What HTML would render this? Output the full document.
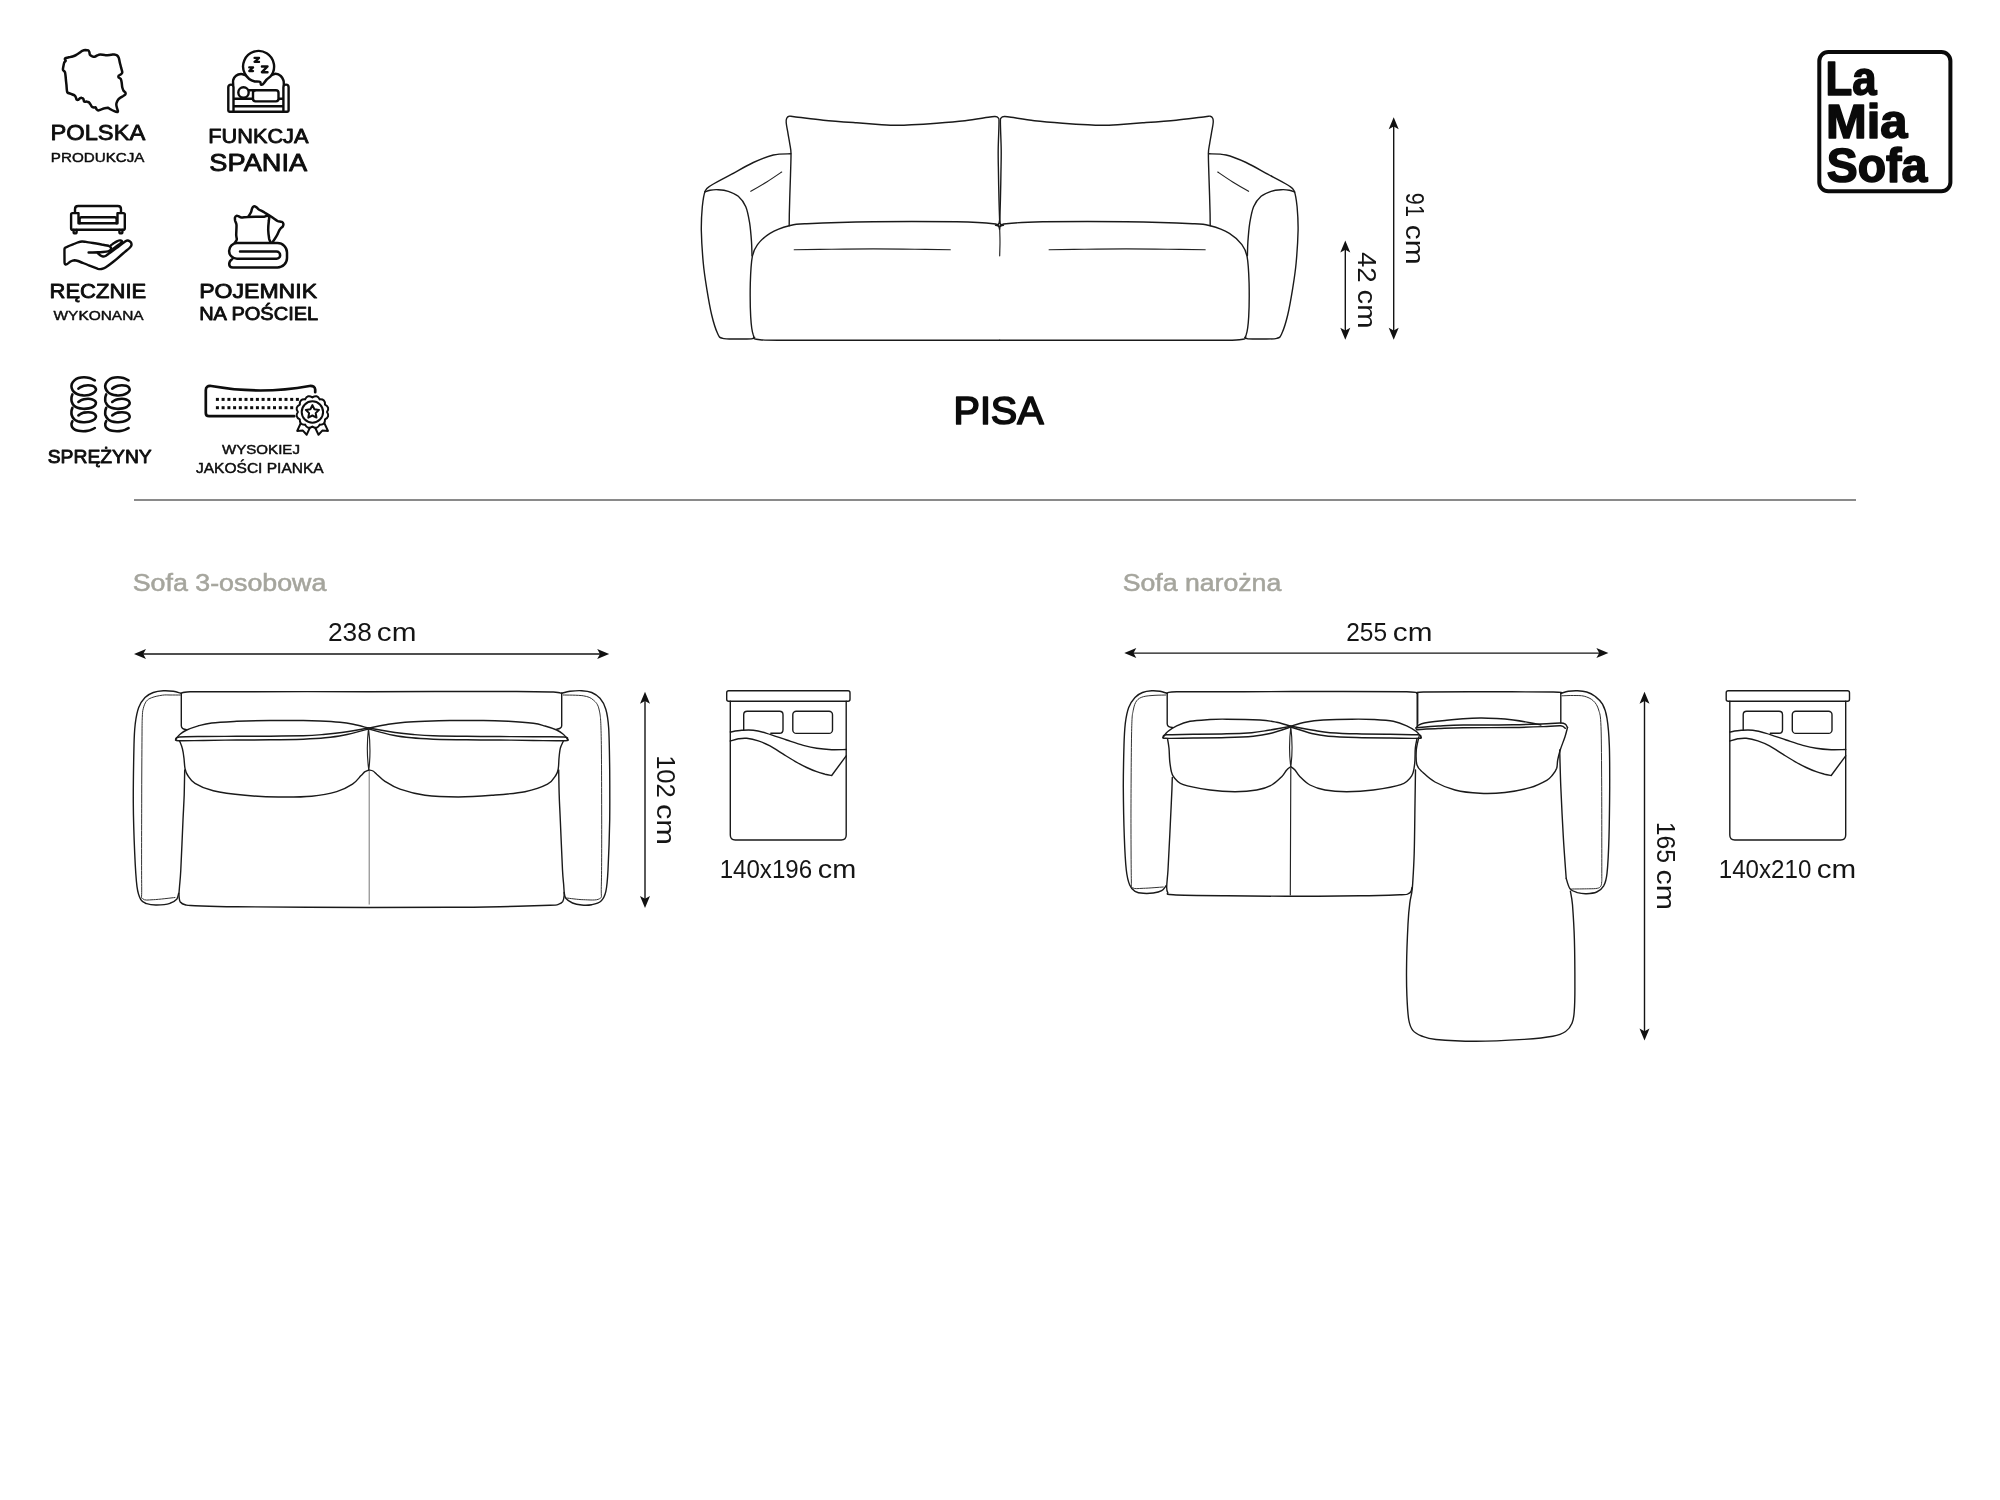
<!DOCTYPE html>
<html lang="pl">
<head>
<meta charset="utf-8">
<title>PISA – wymiary</title>
<style>
html,body{margin:0;padding:0;background:#fff;}
body{width:2000px;height:1500px;overflow:hidden;font-family:"Liberation Sans",sans-serif;}
svg{display:block;position:absolute;left:0;top:0;will-change:transform;transform:translateZ(0);}
svg text{font-family:"Liberation Sans",sans-serif;}
.ln{fill:none;stroke:#1a1a1a;stroke-width:1.4;stroke-linecap:round;stroke-linejoin:round;}
.thin{stroke-width:1.15;stroke:#222;}
.faint{stroke-width:1.0;stroke:#333;}
.seam{stroke-width:0.9;stroke:#666;}
.ln2{fill:none;stroke:#1a1a1a;stroke-width:1.4;stroke-linecap:round;stroke-linejoin:round;}
.dim{stroke:#141414;stroke-width:1.4;}
.ah{fill:#111;stroke:none;}
.dimt{fill:#151515;}
.ttl{fill:#0c0c0c;font-weight:400;stroke:#0c0c0c;stroke-width:1.7;stroke-linejoin:round;}
.logo{fill:#0a0a0a;font-weight:700;stroke:#0a0a0a;stroke-width:1.6;stroke-linejoin:round;}
.cap{fill:#a5a59d;stroke:#a5a59d;stroke-width:0.55;}
.ic{fill:none;stroke:#0d0d0d;stroke-width:2.3;stroke-linecap:round;stroke-linejoin:round;}
.lb{fill:#0d0d0d;stroke:#0d0d0d;stroke-width:0.85;stroke-linejoin:round;}
.ls{fill:#0d0d0d;stroke:#0d0d0d;stroke-width:0.45;stroke-linejoin:round;}
</style>
</head>
<body>
<svg width="2000" height="1500" viewBox="0 0 2000 1500">
<rect x="0" y="0" width="2000" height="1500" fill="#ffffff"/>
<!-- part_front.front_sofa -->
<g><path class="ln" d="M790.8,153.8 C787.9,154 779.6,153.6 773.3,155 C767.1,156.4 760.3,159.3 753.3,162.5 C746.4,165.7 738.6,170.4 731.7,174.2 C724.7,177.9 716.1,182.2 711.7,185 C707.3,187.8 706.9,187.2 705.3,190.8 C703.8,194.4 703,200.1 702.3,206.7 C701.7,213.2 701.2,220.6 701.3,230 C701.5,239.4 702.4,253.6 703.3,263.3 C704.2,273.1 705.3,279.7 706.7,288.3 C708.1,296.9 709.9,307.5 711.7,315 C713.5,322.5 715.7,329.4 717.5,333.3 C719.3,337.2 719,337.4 722.5,338.3 C726,339.3 733.5,338.9 738.3,339 C743.2,339.1 748.9,338.9 751.7,338.7 C754.4,338.4 754.2,337.6 754.7,337.3" /><path class="ln" d="M704.7,192 C705.6,191.7 707.7,190.6 710,190.2 C712.3,189.8 715.3,189.5 718.3,189.7 C721.4,189.9 725,190.2 728.3,191.3 C731.7,192.4 735.4,193.8 738.3,196.3 C741.2,198.9 743.9,202.2 745.8,206.7 C747.7,211.2 748.7,217.5 749.7,223.3 C750.6,229.2 751.1,236.2 751.5,241.7 C751.9,247.1 751.9,253.5 752,255.8" /><path class="ln thin" d="M750.8,191.3 C753.5,189.8 761.5,185.2 766.7,182 C771.8,178.8 779.2,173.7 781.7,172" /><path class="ln" d="M999.2,226.2 C998.2,225.8 1000.4,224.4 993.3,223.7 C986.2,222.9 976.7,222.2 956.7,221.8 C936.7,221.5 898.3,221.4 873.3,221.7 C848.3,222 820.7,223 806.7,223.7 C792.6,224.4 795.3,224.2 789.2,225.8 C783.1,227.4 775.3,230.2 770,233.3 C764.7,236.5 760.4,240.8 757.5,244.7 C754.6,248.6 753.5,250.2 752.3,256.7 C751.1,263.1 750.6,273.3 750.3,283.3 C750.1,293.3 750.2,308.1 750.7,316.7 C751.2,325.3 751.8,331.2 753.3,335 C754.9,338.8 751.1,338.8 760,339.7 C768.9,340.5 766.7,340.1 806.7,340.2 C846.6,340.2 967.5,340.2 999.7,340.2" /><path class="ln thin" d="M794.2,249.7 C800.4,249.6 818.5,249.3 831.7,249.2 C844.9,249 859.4,248.8 873.3,248.8 C887.2,248.8 902.2,249 915,249.2 C927.8,249.3 944.4,249.6 950.3,249.7" /><path class="ln" d="M789.2,225.8 C789.2,221.5 789.4,208.5 789.7,200 C789.9,191.5 790.3,182.8 790.5,175 C790.7,167.2 791.1,158.6 791,153.3 C790.9,148.1 790.2,146.9 789.7,143.3 C789.1,139.7 788.2,135.1 787.7,131.7 C787.1,128.2 786.3,124.7 786.2,122.5 C786,120.3 786.2,119.4 786.7,118.3 C787.2,117.3 787.9,116.6 789.2,116.3 C790.4,116.1 788.5,116 794.2,116.7 C799.9,117.3 812.9,119.1 823.3,120.2 C833.8,121.2 846.9,122.1 856.7,122.8 C866.4,123.6 875,124.2 881.7,124.7 C888.3,125.1 891.7,125.3 896.7,125.3 C901.7,125.4 905,125.2 911.7,124.8 C918.3,124.5 927.8,123.9 936.7,123.2 C945.6,122.5 956.4,121.6 965,120.7 C973.6,119.7 983.3,118 988.3,117.3 C993.3,116.6 993.3,116.4 995,116.5 C996.7,116.6 997.7,117 998.3,118 C999,119 999,117.2 999,122.5 C999,127.8 998.3,141.2 998.2,150 C998.1,158.8 998.4,166.7 998.5,175 C998.6,183.3 998.8,192.1 999,200 C999.2,207.9 999.6,218.8 999.7,222.5" /></g>
<g transform="translate(1999.4,0) scale(-1,1)"><path class="ln" d="M790.8,153.8 C787.9,154 779.6,153.6 773.3,155 C767.1,156.4 760.3,159.3 753.3,162.5 C746.4,165.7 738.6,170.4 731.7,174.2 C724.7,177.9 716.1,182.2 711.7,185 C707.3,187.8 706.9,187.2 705.3,190.8 C703.8,194.4 703,200.1 702.3,206.7 C701.7,213.2 701.2,220.6 701.3,230 C701.5,239.4 702.4,253.6 703.3,263.3 C704.2,273.1 705.3,279.7 706.7,288.3 C708.1,296.9 709.9,307.5 711.7,315 C713.5,322.5 715.7,329.4 717.5,333.3 C719.3,337.2 719,337.4 722.5,338.3 C726,339.3 733.5,338.9 738.3,339 C743.2,339.1 748.9,338.9 751.7,338.7 C754.4,338.4 754.2,337.6 754.7,337.3" /><path class="ln" d="M704.7,192 C705.6,191.7 707.7,190.6 710,190.2 C712.3,189.8 715.3,189.5 718.3,189.7 C721.4,189.9 725,190.2 728.3,191.3 C731.7,192.4 735.4,193.8 738.3,196.3 C741.2,198.9 743.9,202.2 745.8,206.7 C747.7,211.2 748.7,217.5 749.7,223.3 C750.6,229.2 751.1,236.2 751.5,241.7 C751.9,247.1 751.9,253.5 752,255.8" /><path class="ln thin" d="M750.8,191.3 C753.5,189.8 761.5,185.2 766.7,182 C771.8,178.8 779.2,173.7 781.7,172" /><path class="ln" d="M999.2,226.2 C998.2,225.8 1000.4,224.4 993.3,223.7 C986.2,222.9 976.7,222.2 956.7,221.8 C936.7,221.5 898.3,221.4 873.3,221.7 C848.3,222 820.7,223 806.7,223.7 C792.6,224.4 795.3,224.2 789.2,225.8 C783.1,227.4 775.3,230.2 770,233.3 C764.7,236.5 760.4,240.8 757.5,244.7 C754.6,248.6 753.5,250.2 752.3,256.7 C751.1,263.1 750.6,273.3 750.3,283.3 C750.1,293.3 750.2,308.1 750.7,316.7 C751.2,325.3 751.8,331.2 753.3,335 C754.9,338.8 751.1,338.8 760,339.7 C768.9,340.5 766.7,340.1 806.7,340.2 C846.6,340.2 967.5,340.2 999.7,340.2" /><path class="ln thin" d="M794.2,249.7 C800.4,249.6 818.5,249.3 831.7,249.2 C844.9,249 859.4,248.8 873.3,248.8 C887.2,248.8 902.2,249 915,249.2 C927.8,249.3 944.4,249.6 950.3,249.7" /><path class="ln" d="M789.2,225.8 C789.2,221.5 789.4,208.5 789.7,200 C789.9,191.5 790.3,182.8 790.5,175 C790.7,167.2 791.1,158.6 791,153.3 C790.9,148.1 790.2,146.9 789.7,143.3 C789.1,139.7 788.2,135.1 787.7,131.7 C787.1,128.2 786.3,124.7 786.2,122.5 C786,120.3 786.2,119.4 786.7,118.3 C787.2,117.3 787.9,116.6 789.2,116.3 C790.4,116.1 788.5,116 794.2,116.7 C799.9,117.3 812.9,119.1 823.3,120.2 C833.8,121.2 846.9,122.1 856.7,122.8 C866.4,123.6 875,124.2 881.7,124.7 C888.3,125.1 891.7,125.3 896.7,125.3 C901.7,125.4 905,125.2 911.7,124.8 C918.3,124.5 927.8,123.9 936.7,123.2 C945.6,122.5 956.4,121.6 965,120.7 C973.6,119.7 983.3,118 988.3,117.3 C993.3,116.6 993.3,116.4 995,116.5 C996.7,116.6 997.7,117 998.3,118 C999,119 999,117.2 999,122.5 C999,127.8 998.3,141.2 998.2,150 C998.1,158.8 998.4,166.7 998.5,175 C998.6,183.3 998.8,192.1 999,200 C999.2,207.9 999.6,218.8 999.7,222.5" /></g>
<path class="ln thin" d="M999.7,228.3 C999.7,230.6 1000,237.1 1000,241.7 C1000,246.2 999.7,253.5 999.7,255.8" />
<path class="ln" fill="#fff" d="M995.5,225.3 Q999.5,225.3 999.5,220.8 Q999.5,225.3 1003.5,225.3 Q999.5,225.3 999.5,229.3 Q999.5,225.3 995.5,225.3Z"/>
<line class="dim" x1="1393.7" y1="121.2" x2="1393.7" y2="335.7"/><path class="ah" d="M1393.7,117.2 L1388.7,129.2 L1393.7,126.4 L1398.7,129.2Z"/><path class="ah" d="M1393.7,339.7 L1388.7,327.7 L1393.7,330.5 L1398.7,327.7Z"/>
<line class="dim" x1="1345.3" y1="244.5" x2="1345.3" y2="335.7"/><path class="ah" d="M1345.3,240.5 L1340.3,252.5 L1345.3,249.7 L1350.3,252.5Z"/><path class="ah" d="M1345.3,339.7 L1340.3,327.7 L1345.3,330.5 L1350.3,327.7Z"/>
<text class="dimt" font-size="25" transform="translate(1405.8,0) rotate(90)" y="0"><tspan x="192.86" textLength="24.09" lengthAdjust="spacingAndGlyphs">91</tspan> <tspan x="224.71" textLength="39.93" lengthAdjust="spacingAndGlyphs">cm</tspan></text>
<text class="dimt" font-size="25" transform="translate(1357.5,0) rotate(90)" y="0"><tspan x="252.01" textLength="30.65" lengthAdjust="spacingAndGlyphs">42</tspan> <tspan x="289.59" textLength="38.93" lengthAdjust="spacingAndGlyphs">cm</tspan></text>
<text class="ttl" font-size="39.2" x="953.52" y="424" textLength="90.08" lengthAdjust="spacingAndGlyphs">PISA</text>
<!-- part_front.rule_and_logo -->
<rect x="134" y="499" width="1722" height="2" fill="#8a8a8a"/>
<rect x="1819.3" y="52" width="131.1" height="139.3" rx="9" ry="9" fill="none" stroke="#0a0a0a" stroke-width="4"/>
<text x="1825.6" y="94.8" font-size="48.5" textLength="51" lengthAdjust="spacingAndGlyphs" class="logo" >La</text>
<text x="1826" y="138.2" font-size="48.5" textLength="81.5" lengthAdjust="spacingAndGlyphs" class="logo" >Mia</text>
<text x="1826.8" y="181.6" font-size="48.5" textLength="100.5" lengthAdjust="spacingAndGlyphs" class="logo" >Sofa</text>
<!-- part_top3.top3 -->
<path class="ln" d="M181.3,693.3 C180,693 176.3,691.8 173.3,691.3 C170.3,690.9 166.7,690.6 163.3,690.8 C160,691 156.4,691.4 153.3,692.5 C150.3,693.6 147.4,695 145,697.5 C142.6,700 140.3,703.2 138.7,707.5 C137.1,711.8 136.1,717.1 135.3,723.3 C134.6,729.6 134.3,731.7 134,745 C133.7,758.3 133.2,785.3 133.3,803.3 C133.4,821.4 134.1,839.4 134.7,853.3 C135.3,867.2 136,878.9 137,886.7 C138,894.4 139.2,896.8 140.8,899.7 C142.4,902.5 144,902.8 146.7,903.7 C149.3,904.6 152.8,905.1 156.7,905 C160.6,904.9 166.7,904.3 170,903.3 C173.3,902.4 175.2,900.8 176.7,899.2 C178.1,897.5 178.3,894.3 178.7,893.3" />
<path class="ln faint" d="M180.3,695 C178.6,695 173,695 170,695 C167,695 165.4,694.7 162.3,695.2 C159.3,695.6 154.3,696.6 151.7,697.7 C149,698.7 147.8,699.5 146.3,701.3 C144.9,703.2 143.8,706.2 143.2,708.8 C142.5,711.5 142.5,712.7 142.3,717.3 C142.1,722 142.1,722.3 142,736.7 C141.9,751 141.7,778.3 141.7,803.3 C141.6,828.3 141.5,870.8 141.7,886.7 C141.8,902.6 140.7,896.5 142.7,898.7 C144.6,900.8 147.9,899.9 153.3,899.7 C158.7,899.5 171.4,897.9 175,897.5" />
<path class="ln" d="M561.7,693.3 C563.1,693 566.7,691.8 570,691.3 C573.3,690.9 578.1,690.5 581.7,690.7 C585.3,690.9 588.6,691.2 591.7,692.5 C594.7,693.8 597.6,695.6 600,698.3 C602.4,701.1 604.4,704.2 605.8,709.2 C607.3,714.2 608,718.2 608.7,728.3 C609.3,738.5 609.5,754.7 609.7,770 C609.8,785.3 609.9,803.3 609.7,820 C609.4,836.7 608.6,858.1 608,870 C607.4,881.9 607,886.4 605.8,891.7 C604.6,896.9 603.2,899.2 600.8,901.3 C598.5,903.5 594.9,904.1 591.7,904.7 C588.5,905.3 584.9,905.3 581.7,905 C578.5,904.7 575.1,904.1 572.5,903 C569.9,901.9 567.2,900.1 565.8,898.3 C564.4,896.6 564.4,893.5 564.2,892.5" />
<path class="ln faint" d="M563.3,695 C566.7,695.1 578.3,695 583.3,695.8 C588.3,696.7 590.7,697.6 593.3,700 C596,702.4 597.9,703.9 599.2,710 C600.5,716.1 600.8,718.3 601.2,736.7 C601.6,755 601.6,795 601.7,820 C601.7,845 601.7,873.6 601.3,886.7 C601,899.8 602.5,896.5 599.5,898.7 C596.5,900.8 588.8,899.8 583.3,899.7 C577.9,899.6 569.4,898.3 566.7,898" />
<path class="ln" d="M186.7,729.7 Q181.3,729.3 181.3,725.8 V693.3" />
<path class="ln" d="M181.3,693.3 C182.8,693.1 180.8,692.1 190,691.8 C199.2,691.6 206.8,691.7 236.7,691.7 C266.5,691.6 333.6,691.7 369.2,691.7 C404.7,691.6 425.4,691.5 450,691.5 C474.6,691.5 499.4,691.4 516.7,691.5 C533.9,691.6 545.8,691.7 553.3,692 C560.8,692.3 560.3,693.1 561.7,693.3" />
<path class="ln" d="M561.7,693.3 V725.8 Q561.7,728.7 556.7,729.2" />
<path class="ln" d="M175.8,739.2 C176.5,738.3 178.2,735.7 180,734.2 C181.8,732.6 183.6,731.4 186.7,730 C189.7,728.6 194.2,727 198.3,725.8 C202.5,724.7 205.3,723.8 211.7,723 C218.1,722.2 226.9,721.8 236.7,721.3 C246.4,720.9 258.9,720.6 270,720.5 C281.1,720.4 295,720.4 303.3,720.5 C311.7,720.6 313.9,720.7 320,721 C326.1,721.3 334.4,721.8 340,722.3 C345.6,722.9 348.6,723.4 353.3,724.3 C358.1,725.3 365.8,727.4 368.3,728" />
<path class="ln" d="M175.8,739.2 C176.4,738.8 174.8,737.4 179.3,737 C183.9,736.6 193.8,736.6 203.3,736.5 C212.9,736.4 225.6,736.4 236.7,736.3 C247.8,736.3 258.9,736.3 270,736.2 C281.1,736.1 294.4,735.9 303.3,735.7 C312.2,735.4 316.9,735 323.3,734.5 C329.7,734 334.2,733.6 341.7,732.5 C349.2,731.4 363.9,728.8 368.3,728" />
<path class="ln" d="M175.8,739.2 C176.2,739.4 173.8,740.4 178.3,740.7 C182.9,740.9 193.6,740.6 203.3,740.5 C213.1,740.4 225.6,740.1 236.7,740 C247.8,739.9 258.9,740 270,739.8 C281.1,739.7 294.2,739.5 303.3,739.2 C312.5,738.8 318.3,738.5 325,737.8 C331.7,737.2 336.1,736.8 343.3,735.3 C350.6,733.9 364.2,730.1 368.3,729" />
<path class="ln" d="M179.7,741.2 C180.1,742.4 181.6,745.5 182.3,748.3 C183.1,751.2 183.6,755 184,758.3 C184.4,761.7 184.4,765.6 185,768.3 C185.6,771.1 185.8,772.5 187.5,775 C189.2,777.5 190.7,780.7 195,783.3 C199.3,786 205,788.8 213.3,790.8 C221.7,792.8 234.2,794.3 245,795.3 C255.8,796.4 267.2,796.9 278.3,797 C289.4,797.1 301.9,797.1 311.7,796.2 C321.4,795.3 329.9,793.7 336.7,791.7 C343.5,789.7 348.5,786.8 352.5,784.2 C356.5,781.5 358.8,777.9 360.8,775.8 C362.9,773.8 363.7,772.6 365,771.7 C366.3,770.7 368.2,770.3 368.8,770" />
<path class="ln" d="M567.5,739.2 C566.8,738.3 565.1,735.7 563.3,734.2 C561.5,732.6 559.7,731.4 556.7,730 C553.6,728.6 548.9,727.1 545,726 C541.1,724.9 539.4,724.1 533.3,723.3 C527.2,722.6 516.7,721.8 508.3,721.3 C500,720.9 493.1,720.6 483.3,720.5 C473.6,720.4 459.7,720.4 450,720.5 C440.3,720.6 432.5,720.9 425,721.2 C417.5,721.5 411.1,721.8 405,722.3 C398.9,722.9 394.4,723.4 388.3,724.3 C382.3,725.3 372.1,727.4 368.8,728" />
<path class="ln" d="M567.5,739.2 C566.9,738.8 569.7,737.4 564,737 C558.3,736.6 544,736.9 533.3,736.8 C522.7,736.8 511.1,736.6 500,736.5 C488.9,736.4 477.8,736.5 466.7,736.3 C455.6,736.2 442.2,736 433.3,735.7 C424.4,735.4 419.7,735 413.3,734.5 C406.9,734 402.4,733.6 395,732.5 C387.6,731.4 373.2,728.8 368.8,728" />
<path class="ln" d="M567.5,739.2 C567.1,739.4 570.7,740.4 565,740.7 C559.3,740.9 544.2,740.6 533.3,740.5 C522.5,740.4 511.1,740.1 500,740 C488.9,739.9 477.8,740 466.7,739.8 C455.6,739.7 442.5,739.5 433.3,739.2 C424.2,738.8 418.3,738.5 411.7,737.8 C405,737.2 400.5,736.8 393.3,735.3 C386.2,733.9 372.9,730.1 368.8,729" />
<path class="ln" d="M563.3,741.2 C562.8,742.4 561.1,745.5 560.3,748.3 C559.6,751.2 559.3,755 559,758.3 C558.7,761.7 558.8,765.6 558.3,768.3 C557.8,771.1 557.8,772.4 556,775 C554.2,777.6 552.7,781.4 547.5,784.2 C542.3,786.9 534.3,789.8 525,791.7 C515.7,793.5 502.8,794.4 491.7,795.3 C480.6,796.2 469.4,797 458.3,797 C447.2,797 434.7,796.6 425,795.3 C415.3,794 406.7,791.5 400,789.2 C393.3,786.8 388.9,783.8 385,781.3 C381.1,778.8 378.7,775.9 376.7,774.2 C374.7,772.4 374.3,771.7 373,771 C371.7,770.3 369.5,770.2 368.8,770" />
<path class="ln thin" d="M368.5,728.3 Q366,750 368.8,770 Q371.3,750 368.5,728.3Z" />
<path class="ln" d="M184.7,770 C184.6,774.2 184.4,786.7 184.2,795 C183.9,803.3 183.6,807.5 183,820 C182.4,832.5 181.4,858.9 180.8,870 C180.2,881.1 179.8,882.5 179.5,886.7 C179.2,890.8 178.9,892.4 179,895 C179.1,897.6 179.2,900.3 180.3,902 C181.5,903.7 183.4,904.4 185.8,905 C188.3,905.6 186.5,905.4 195,905.7 C203.5,905.9 207.6,906.4 236.7,906.7 C265.7,907 333.6,907.4 369.2,907.5 C404.7,907.6 428.2,907.5 450,907.3 C471.8,907.2 483.3,907 500,906.7 C516.7,906.3 540.3,905.7 550,905.3 C559.7,904.9 556.2,904.9 558.3,904.3 C560.4,903.7 561.7,903.2 562.7,901.7 C563.6,900.1 564,897.8 564.2,895 C564.3,892.2 563.9,889.2 563.7,885 C563.4,880.8 563.1,880.8 562.5,870 C561.9,859.2 560.9,832.5 560.3,820 C559.8,807.5 559.4,803.3 559.2,795 C558.9,786.7 558.8,774.2 558.7,770" />
<path class="ln seam" d="M369.2,771.3 L369.2,904.2" />
<line class="dim" x1="138" y1="654" x2="605.2" y2="654"/><path class="ah" d="M134,654 L146,649 L143.2,654 L146,659Z"/><path class="ah" d="M609.2,654 L597.2,649 L600,654 L597.2,659Z"/>
<text class="dimt" font-size="25" y="640.8"><tspan x="327.98" textLength="43.85" lengthAdjust="spacingAndGlyphs">238</tspan> <tspan x="376.81" textLength="39.58" lengthAdjust="spacingAndGlyphs">cm</tspan></text>
<line class="dim" x1="645" y1="695.7" x2="645" y2="904"/><path class="ah" d="M645,691.7 L640,703.7 L645,700.9 L650,703.7Z"/><path class="ah" d="M645,908 L640,896 L645,898.8 L650,896Z"/>
<text class="dimt" font-size="25" transform="translate(657,0) rotate(90)" y="0"><tspan x="755.17" textLength="42.61" lengthAdjust="spacingAndGlyphs">102</tspan> <tspan x="803.96" textLength="41.09" lengthAdjust="spacingAndGlyphs">cm</tspan></text>
<text class="cap" font-size="24.6" x="132.70" y="591" textLength="193.70" lengthAdjust="spacingAndGlyphs">Sofa 3-osobowa</text>
<rect class="ln2" x="726.7" y="690.8" width="123.3" height="10.5" rx="2" ry="2"/>
<path class="ln2" d="M730.3,701.3 V835 Q730.3,840 735.3,840 H841.2 Q846.2,840 846.2,835 V701.3" />
<rect class="ln2" x="792.8" y="711.2" width="39.7" height="22.2" rx="3.5" ry="3.5"/>
<path class="ln2" d="M743.7,730 V714.7 Q743.7,711.2 747.2,711.2 H779.5 Q783,711.2 783,714.7 V729.8 Q783,733.3 779.5,733.3 H770.8" />
<path class="ln2" d="M730.3,732 C732.2,731.7 737.8,730.6 741.7,730.3 C745.5,730.1 749.2,729.8 753.3,730.3 C757.5,730.8 761.1,731.7 766.7,733.3 C772.2,734.9 780.6,738 786.7,740 C792.8,742 798.3,743.9 803.3,745.3 C808.3,746.7 811.9,747.6 816.7,748.3 C821.4,749.1 826.8,749.5 831.7,749.7 C836.6,749.9 843.8,749.5 846.2,749.5" />
<path class="ln2" d="M730.3,741 C731.7,740.6 735.6,739.3 738.3,738.8 C741.1,738.4 743.3,738 746.7,738.3 C750,738.7 754.4,739.6 758.3,740.8 C762.2,742.1 765.8,743.6 770,745.8 C774.2,748.1 779.2,751.6 783.3,754.2 C787.5,756.8 791.1,759.1 795,761.3 C798.9,763.6 803.1,765.8 806.7,767.5 C810.3,769.2 813.6,770.6 816.7,771.7 C819.7,772.8 822.5,773.5 825,774.2 C827.5,774.8 830.6,775.3 831.7,775.5 L846.2,755.8" />
<text class="dimt" font-size="25" y="877.5"><tspan x="719.65" textLength="92.48" lengthAdjust="spacingAndGlyphs">140x196</tspan> <tspan x="817.76" textLength="38.48" lengthAdjust="spacingAndGlyphs">cm</tspan></text>
<!-- part_corner.corner -->
<path class="ln" d="M1167,693.3 C1165.8,693 1162.6,691.8 1160,691.3 C1157.4,690.9 1154.6,690.6 1151.7,690.8 C1148.8,691 1145.3,691.4 1142.5,692.5 C1139.7,693.6 1137.3,695 1135,697.5 C1132.7,700 1130.3,703.2 1128.7,707.5 C1127.1,711.8 1126.1,717.1 1125.3,723.3 C1124.6,729.6 1124.3,734.4 1124,745 C1123.7,755.6 1123.3,771.4 1123.3,786.7 C1123.4,801.9 1123.8,822.8 1124.3,836.7 C1124.8,850.6 1125.4,861.9 1126.3,870 C1127.2,878.1 1128.2,881.4 1129.7,885 C1131.1,888.6 1132.7,889.9 1135,891.3 C1137.3,892.7 1140.3,893.1 1143.3,893.3 C1146.4,893.6 1150.3,893.4 1153.3,893 C1156.4,892.6 1159.6,891.9 1161.7,890.7 C1163.8,889.5 1165.3,886.6 1166,885.8" />
<path class="ln faint" d="M1165.8,695 C1164,695.1 1158.8,695.1 1155,695.3 C1151.2,695.6 1146.4,695.8 1143.3,696.7 C1140.3,697.6 1138.3,698.6 1136.7,700.8 C1135,703.1 1134.2,705.4 1133.3,710 C1132.5,714.6 1132.1,712.8 1131.7,728.3 C1131.3,743.9 1131.1,778.3 1131,803.3 C1130.9,828.3 1131.1,864.3 1131.3,878.3 C1131.6,892.4 1130.5,886 1132.5,887.7 C1134.5,889.3 1138.2,888.4 1143.3,888.3 C1148.5,888.2 1160,887.2 1163.3,887" />
<path class="ln" d="M1560.8,693.3 C1562.1,693 1565.6,691.8 1568.3,691.3 C1571.1,690.9 1574.4,690.7 1577.5,690.8 C1580.6,690.9 1583.8,691.1 1586.7,692 C1589.6,692.9 1592.4,694.3 1595,696.3 C1597.6,698.4 1600.5,700.5 1602.5,704.2 C1604.5,707.8 1605.9,711.5 1607,718.3 C1608.1,725.1 1608.9,733.6 1609.3,745 C1609.8,756.4 1609.7,771.4 1609.7,786.7 C1609.6,801.9 1609.4,822.2 1609,836.7 C1608.6,851.1 1607.9,865.1 1607,873.3 C1606.1,881.5 1605.4,882.7 1603.7,885.8 C1601.9,888.9 1599.5,890.7 1596.7,892 C1593.8,893.3 1589.9,893.6 1586.7,893.7 C1583.5,893.8 1580.3,893.5 1577.5,892.7 C1574.7,891.8 1571.9,891.1 1570,888.7 C1568.1,886.3 1566.8,880.1 1566.2,878.3" />
<path class="ln faint" d="M1562,695.8 C1563.9,695.8 1569.6,695.4 1573.3,695.5 C1577,695.6 1580.8,695.3 1584.2,696.2 C1587.5,697.1 1590.9,698.5 1593.3,700.8 C1595.8,703.1 1597.4,705.7 1598.7,710 C1599.9,714.3 1600.5,713.9 1601,726.7 C1601.5,739.4 1601.5,762.8 1601.7,786.7 C1601.8,810.6 1601.8,854.1 1601.8,870 C1601.8,885.9 1601.9,879.3 1601.7,882 C1601.5,884.7 1601.4,885.3 1600.7,886.3 C1599.9,887.4 1599.4,887.9 1597.3,888.3 C1595.3,888.8 1592.6,888.7 1588.3,888.8 C1584.1,888.9 1574.4,889 1571.7,889" />
<path class="ln" d="M1172.5,727.5 Q1167.2,727.2 1167.2,723.7 V693.3" />
<path class="ln" d="M1167.2,693.3 C1168.8,693.1 1164,692.1 1176.7,691.8 C1189.4,691.6 1215.6,691.7 1243.3,691.7 C1271.1,691.6 1316.1,691.5 1343.3,691.5 C1370.6,691.5 1394.4,691.6 1406.7,691.8 C1419,692.1 1415.4,692.8 1417.2,693" />
<path class="ln" d="M1417,693.3 C1418.1,693.1 1412.8,692.2 1423.3,692 C1433.8,691.8 1458.3,691.8 1480,691.8 C1501.7,691.8 1539.9,691.8 1553.3,692 C1566.8,692.2 1559.6,693.1 1560.8,693.3" />
<path class="ln" d="M1417.2,693 L1417.2,727.5" />
<path class="ln" d="M1417.7,693.3 L1417.7,723.3" />
<path class="ln" d="M1560.8,693.3 L1560.8,723" />
<path class="ln" d="M1163.3,737 C1164,736.1 1165.3,733.5 1167.5,731.7 C1169.7,729.8 1172.9,727.6 1176.7,725.8 C1180.4,724.1 1184.4,722.4 1190,721.3 C1195.6,720.3 1203.9,719.9 1210,719.5 C1216.1,719.1 1218.3,719.1 1226.7,719.2 C1235,719.2 1251.7,719.5 1260,720 C1268.3,720.5 1271.5,721.3 1276.7,722.3 C1281.8,723.4 1288.5,725.5 1290.8,726.2" />
<path class="ln" d="M1163.3,737 C1163.9,736.6 1161.7,735.3 1166.7,734.8 C1171.7,734.4 1183.3,734.5 1193.3,734.3 C1203.3,734.2 1216.9,734.1 1226.7,733.8 C1236.4,733.6 1244.7,733.2 1251.7,732.7 C1258.6,732.1 1261.8,731.4 1268.3,730.3 C1274.9,729.2 1287.1,726.9 1290.8,726.2" />
<path class="ln" d="M1163.3,737 C1163.7,737.2 1160.7,738.2 1165.7,738.3 C1170.7,738.5 1183.2,738.1 1193.3,738 C1203.5,737.9 1216.7,737.8 1226.7,737.5 C1236.7,737.2 1246.1,736.8 1253.3,736.2 C1260.6,735.5 1263.8,735 1270,733.5 C1276.2,732 1287.4,728.1 1290.8,727" />
<path class="ln" d="M1167.5,738.7 C1167.8,740.3 1168.6,744.2 1169,748.3 C1169.4,752.4 1169.3,758.8 1170,763.3 C1170.7,767.9 1170.8,772.3 1173,775.8 C1175.2,779.4 1177.2,782.3 1183.3,784.7 C1189.5,787 1201.4,788.8 1210,790 C1218.6,791.2 1227.2,791.7 1235,791.7 C1242.8,791.7 1250.6,791.1 1256.7,790 C1262.8,788.9 1267.5,787.2 1271.7,785 C1275.8,782.8 1279.2,779.2 1281.7,776.7 C1284.2,774.2 1285.1,771.7 1286.7,770 C1288.2,768.3 1290.1,767.2 1290.8,766.7" />
<path class="ln" d="M1420.8,737 C1420.1,736.1 1419,733.5 1416.7,731.7 C1414.3,729.8 1410.6,727.6 1406.7,725.8 C1402.8,724.1 1398.9,722.4 1393.3,721.3 C1387.8,720.3 1380.3,719.9 1373.3,719.5 C1366.4,719.1 1360,719.1 1351.7,719.2 C1343.3,719.2 1331.1,719.5 1323.3,720 C1315.6,720.5 1310.4,721.3 1305,722.3 C1299.6,723.4 1293.2,725.5 1290.8,726.2" />
<path class="ln" d="M1420.8,737 C1420.3,736.6 1422.6,735.3 1417.5,734.8 C1412.4,734.4 1400.1,734.5 1390,734.3 C1379.9,734.2 1366.7,734.1 1356.7,733.8 C1346.7,733.6 1337.2,733.2 1330,732.7 C1322.8,732.1 1319.9,731.4 1313.3,730.3 C1306.8,729.2 1294.6,726.9 1290.8,726.2" />
<path class="ln" d="M1420.8,737 C1420.4,737.2 1423.6,738.2 1418.5,738.3 C1413.4,738.5 1400.3,738.1 1390,738 C1379.7,737.9 1366.9,737.8 1356.7,737.5 C1346.4,737.2 1335.8,736.8 1328.3,736.2 C1320.8,735.5 1317.9,735 1311.7,733.5 C1305.4,732 1294.3,728.1 1290.8,727" />
<path class="ln" d="M1417,738.7 C1416.7,740.3 1415.7,744.2 1415.3,748.3 C1414.9,752.4 1415.3,758.8 1414.7,763.3 C1414.1,767.9 1414,772.3 1411.7,775.8 C1409.4,779.4 1407.2,782.3 1400.8,784.7 C1394.4,787 1382.4,788.8 1373.3,790 C1364.3,791.2 1354.7,791.7 1346.7,791.7 C1338.6,791.7 1331.1,791.1 1325,790 C1318.9,788.9 1314.2,787.2 1310,785 C1305.8,782.8 1302.5,779.2 1300,776.7 C1297.5,774.2 1296.5,771.7 1295,770 C1293.5,768.3 1291.5,767.2 1290.8,766.7" />
<path class="ln thin" d="M1290.8,726.7 Q1288.3,748.3 1290.8,766.7 Q1293.3,748.3 1290.8,726.7Z" />
<path class="ln thin" d="M1290.8,768.3 L1290.3,895" />
<path class="ln" d="M1172.3,777.5 C1172.2,781.8 1171.8,793.5 1171.3,803.3 C1170.9,813.2 1170.2,825.6 1169.7,836.7 C1169.1,847.8 1168.5,861.7 1168,870 C1167.5,878.3 1166.7,882.9 1166.7,886.7 C1166.6,890.4 1166.6,891.1 1167.7,892.5 C1168.8,893.9 1163.5,894.3 1173.3,894.8 C1183.2,895.4 1207.1,895.6 1226.7,895.8 C1246.2,896.1 1268.6,896.3 1290.8,896.3 C1313.1,896.3 1341.5,896.1 1360,895.8 C1378.5,895.6 1393.6,895 1401.7,894.7 C1409.7,894.3 1406.8,894.2 1408.3,893.7 C1409.9,893.1 1410.4,892.4 1411,891.3 C1411.6,890.3 1411.8,888.1 1412,887.5" />
<path class="ln" d="M1415.5,770 C1415.4,775.6 1415.2,789.4 1415,803.3 C1414.8,817.2 1414.6,840 1414.2,853.3 C1413.8,866.7 1413.1,876.8 1412.7,883.3 C1412.3,889.9 1412.2,889.5 1411.7,892.8 C1411.2,896.1 1410.4,898 1409.8,903.2 C1409.1,908.4 1408.5,913.9 1408,924 C1407.5,934.1 1406.7,952 1406.6,964 C1406.4,976 1406.5,986.7 1406.9,996 C1407.3,1005.3 1407.8,1014.3 1408.8,1020 C1409.8,1025.7 1410.7,1027.7 1412.8,1030.4 C1414.9,1033.1 1417.7,1034.5 1421.6,1036 C1425.5,1037.5 1426.9,1038.6 1436,1039.5 C1445.1,1040.4 1461.3,1041.3 1476,1041.3 C1490.7,1041.3 1511.2,1040.2 1524,1039.4 C1536.8,1038.5 1545.9,1037.6 1552.8,1036.3 C1559.7,1035 1562.4,1033.7 1565.6,1031.5 C1568.8,1029.3 1570.6,1026.5 1572,1023.2 C1573.4,1019.9 1573.8,1017.9 1574.2,1012 C1574.7,1006.1 1574.9,1000 1574.9,988 C1574.9,976 1574.8,953.9 1574.4,940 C1574,926.1 1573.1,912.9 1572.5,904.8 C1571.8,896.7 1570.7,893.5 1570.4,891.2" />
<path class="ln" d="M1559.7,750 C1559.9,756.1 1560.2,772.2 1560.8,786.7 C1561.4,801.1 1562.4,821.4 1563.3,836.7 C1564.2,851.9 1565.7,871.4 1566.2,878.3" />
<path class="ln" d="M1416,728.3 C1416.9,727.6 1416.6,725 1421.7,723.7 C1426.8,722.3 1439.7,721.1 1446.7,720.3 C1453.6,719.5 1457.8,719.2 1463.3,718.8 C1468.9,718.4 1474.4,718.1 1480,718 C1485.6,717.9 1491.1,718.2 1496.7,718.5 C1502.2,718.8 1507.8,719.3 1513.3,720 C1518.9,720.7 1525.4,721.8 1530,722.7 C1534.6,723.5 1539,724.6 1540.8,725" />
<path class="ln" d="M1416,727.7 C1419.7,727.4 1430.4,726.4 1438.3,726 C1446.2,725.6 1450.8,725.2 1463.3,725 C1475.8,724.8 1499.4,725.1 1513.3,724.8 C1527.2,724.6 1538.8,724 1546.7,723.7 C1554.6,723.4 1557.7,722.9 1560.8,723 C1563.9,723.1 1564.2,723.4 1565.3,724.2 C1566.4,724.9 1567.1,726.9 1567.5,727.5" />
<path class="ln" d="M1416.3,729.7 C1420,729.5 1430.5,728.8 1438.3,728.5 C1446.2,728.2 1450.8,727.8 1463.3,727.7 C1475.8,727.5 1499.4,727.7 1513.3,727.5 C1527.2,727.3 1538.8,726.8 1546.7,726.5 C1554.6,726.2 1557.7,725.5 1560.8,725.8 C1563.9,726.1 1564.6,727.9 1565.3,728.3" />
<path class="ln" d="M1567.5,727.5 C1567.1,729 1566.2,733 1565,736.7 C1563.8,740.4 1561.6,745.8 1560.3,749.7 C1559.1,753.6 1558.3,756.9 1557.7,760 C1557.1,763.1 1557.5,765.8 1556.7,768.3 C1555.8,770.8 1554.2,773 1552.5,775 C1550.8,777 1550.4,778.2 1546.7,780.3 C1542.9,782.4 1536.9,785.6 1530,787.7 C1523.1,789.7 1513.3,791.6 1505,792.5 C1496.7,793.4 1488.3,793.8 1480,793.3 C1471.7,792.9 1462.5,791.9 1455,790 C1447.5,788.1 1440.3,784.9 1435,782 C1429.7,779.1 1426,775.3 1423,772.5 C1420,769.7 1418.1,768.8 1417,765 C1415.9,761.2 1416,754.7 1416.3,750 C1416.7,745.3 1418.6,738.9 1419,736.7" />
<line class="dim" x1="1128.3" y1="653.1" x2="1604.4" y2="653.1"/><path class="ah" d="M1124.3,653.1 L1136.3,648.1 L1133.5,653.1 L1136.3,658.1Z"/><path class="ah" d="M1608.4,653.1 L1596.4,648.1 L1599.2,653.1 L1596.4,658.1Z"/>
<text class="dimt" font-size="25" y="641.1"><tspan x="1346.21" textLength="40.88" lengthAdjust="spacingAndGlyphs">255</tspan> <tspan x="1392.81" textLength="39.58" lengthAdjust="spacingAndGlyphs">cm</tspan></text>
<line class="dim" x1="1644.5" y1="695.7" x2="1644.5" y2="1036.5"/><path class="ah" d="M1644.5,691.7 L1639.5,703.7 L1644.5,700.9 L1649.5,703.7Z"/><path class="ah" d="M1644.5,1040.5 L1639.5,1028.5 L1644.5,1031.3 L1649.5,1028.5Z"/>
<text class="dimt" font-size="25" transform="translate(1656.5,0) rotate(90)" y="0"><tspan x="821.87" textLength="41.22" lengthAdjust="spacingAndGlyphs">165</tspan> <tspan x="869.61" textLength="40.44" lengthAdjust="spacingAndGlyphs">cm</tspan></text>
<text class="cap" font-size="24.6" x="1122.71" y="591" textLength="158.56" lengthAdjust="spacingAndGlyphs">Sofa narożna</text>
<rect class="ln2" x="1726.2" y="690.8" width="123.3" height="10.5" rx="2" ry="2"/>
<path class="ln2" d="M1729.8,701.3 V835 Q1729.8,840 1734.8,840 H1840.7 Q1845.7,840 1845.7,835 V701.3" />
<rect class="ln2" x="1792.3" y="711.2" width="39.7" height="22.2" rx="3.5" ry="3.5"/>
<path class="ln2" d="M1743.2,730 V714.7 Q1743.2,711.2 1746.7,711.2 H1779 Q1782.5,711.2 1782.5,714.7 V729.8 Q1782.5,733.3 1779,733.3 H1770.3" />
<path class="ln2" d="M1729.8,732 C1731.7,731.7 1737.3,730.6 1741.2,730.3 C1745,730.1 1748.7,729.8 1752.8,730.3 C1757,730.8 1760.6,731.7 1766.2,733.3 C1771.7,734.9 1780.1,738 1786.2,740 C1792.3,742 1797.8,743.9 1802.8,745.3 C1807.8,746.7 1811.4,747.6 1816.2,748.3 C1820.9,749.1 1826.2,749.5 1831.2,749.7 C1836.1,749.9 1843.2,749.5 1845.7,749.5" />
<path class="ln2" d="M1729.8,741 C1731.2,740.6 1735.1,739.3 1737.8,738.8 C1740.6,738.4 1742.8,738 1746.2,738.3 C1749.5,738.7 1753.9,739.6 1757.8,740.8 C1761.7,742.1 1765.3,743.6 1769.5,745.8 C1773.7,748.1 1778.7,751.6 1782.8,754.2 C1787,756.8 1790.6,759.1 1794.5,761.3 C1798.4,763.6 1802.6,765.8 1806.2,767.5 C1809.8,769.2 1813.1,770.6 1816.2,771.7 C1819.2,772.8 1822,773.5 1824.5,774.2 C1827,774.8 1830.1,775.3 1831.2,775.5 L1845.7,755.8" />
<text class="dimt" font-size="25" y="877.5"><tspan x="1718.73" textLength="92.62" lengthAdjust="spacingAndGlyphs">140x210</tspan> <tspan x="1816.84" textLength="39.45" lengthAdjust="spacingAndGlyphs">cm</tspan></text>
<!-- part_icons.poland -->
<path class="ic" d="M65.4,58.1 C66,57.9 67.8,57.6 68.9,57.3 C69.9,57.1 71.5,56.9 72.6,56.5 C73.7,56.2 75.4,55.5 76.3,54.9 C77.3,54.4 78.7,53.4 79.5,52.8 C80.4,52.2 81.4,51.3 82.2,50.9 C83,50.6 84.5,50.2 85.4,50.1 C86.3,50.1 87.8,50.1 88.3,50.4 C88.9,50.7 89.2,51.7 89.4,52.3 C89.6,52.9 89.5,54.1 89.9,54.7 C90.3,55.2 91.7,56 92.3,56.3 C93,56.6 94.1,56.9 94.7,56.8 C95.4,56.7 96.3,55.8 97.1,55.5 C97.9,55.1 99.1,54.5 100.3,54.5 C101.5,54.5 104.2,55.2 105.7,55.2 C107.2,55.2 109.8,54.9 111,54.8 C112.2,54.7 113.4,54.3 114.2,54.4 C115,54.5 116.2,54.7 116.9,55.2 C117.5,55.7 118.3,56.6 118.7,57.6 C119.1,58.6 119.5,61 119.8,62.4 C120.1,63.8 120.8,66.3 121.1,67.7 C121.5,69.1 122.3,71.4 122.3,72.3 C122.3,73.2 121.6,73.6 121.1,74.1 C120.6,74.6 119.1,75.3 118.7,75.7 C118.4,76.2 118.2,76.8 118.5,77.3 C118.8,77.8 120.4,78.4 120.9,79.2 C121.3,80 121.5,81.5 121.7,82.7 C121.9,83.8 122,86.3 122.3,87.5 C122.6,88.6 123.1,89.9 123.5,90.7 C124,91.4 125.1,92 125.4,92.5 C125.7,93.1 125.7,93.9 125.4,94.4 C125.1,94.9 124,95.5 123.3,96 C122.5,96.5 120.9,97.2 120.1,97.9 C119.2,98.5 117.9,99.9 117.4,100.8 C116.9,101.7 116.4,103 116.3,104 C116.3,105 116.6,106.8 116.9,107.7 C117.1,108.7 117.9,110.3 117.9,110.9 C118,111.5 117.7,112 117.1,112 C116.5,112 114.6,111.3 113.7,110.9 C112.7,110.6 111.3,109.8 110.5,109.3 C109.6,108.9 108.6,107.9 107.8,107.7 C107,107.6 105.6,108 104.6,108.3 C103.6,108.5 101.8,109.3 100.9,109.6 C100,109.9 98.8,110.4 98.2,110.4 C97.6,110.4 97,109.8 96.6,109.3 C96.2,108.9 95.9,107.5 95.5,107.2 C95.2,106.9 94.5,107.5 93.9,107.5 C93.4,107.4 92.3,107.2 91.8,106.7 C91.3,106.2 90.7,104.6 90.2,104 C89.7,103.4 89.1,102.5 88.6,102.1 C88.1,101.8 87.1,101.7 86.5,101.6 C85.8,101.5 84.5,101.9 84.1,101.6 C83.7,101.3 83.8,99.7 83.5,99.2 C83.2,98.7 82.5,98 81.9,97.9 C81.4,97.8 80.3,98.1 79.8,98.4 C79.3,98.7 78.9,99.6 78.5,99.7 C78,99.9 77,99.8 76.6,99.5 C76.2,99.1 76.1,97.9 75.8,97.3 C75.5,96.8 75.4,96 74.7,95.5 C74.1,95 72,94.3 71,93.9 C70,93.5 68.1,93.1 67.5,92.5 C66.9,91.9 67,90.6 66.8,89.6 C66.7,88.6 66.6,86.7 66.5,85.3 C66.3,84 66.1,81.5 65.9,80 C65.8,78.5 65.6,75.8 65.4,74.7 C65.2,73.5 65.2,72.7 64.9,72 C64.5,71.3 63.2,70.6 63,69.9 C62.8,69.1 63.1,67.7 63.3,66.7 C63.5,65.6 64,63.2 64.3,62.4 C64.7,61.6 65.6,61.3 65.7,60.8 C65.7,60.3 64.9,59.6 64.9,59.2 C64.8,58.8 64.8,58.4 65.4,58.1Z" style="stroke-width:2.5"/>
<text class="lb" font-size="22.7" x="50.56" y="140" textLength="94.66" lengthAdjust="spacingAndGlyphs">POLSKA</text>
<text class="ls" font-size="13.7" x="50.89" y="162" textLength="93.62" lengthAdjust="spacingAndGlyphs">PRODUKCJA</text>
<!-- part_icons.sleep -->
<path class="ic" d="M254.8,81.5 A15.5,15.5 0 1 1 270.4,76.5 Q266.5,79 264,83 Q262.5,85.2 261.2,84.8 Q260.5,84.5 260.6,83 Q260.8,81.1 254.8,81.5" style="stroke-width:2.4"/>
<path class="ic" d="M254.5,57.9 L259.1,57.9 L254.5,61.9 L259.1,61.9" style="stroke-width:2.2"/>
<path class="ic" d="M249.2,67.4 L253.1,67.4 L249.2,71.1 L253.1,71.1" style="stroke-width:2.2"/>
<path class="ic" d="M261.9,66.5 L267.5,66.5 L261.9,72.2 L267.5,72.2" style="stroke-width:2.4"/>
<path class="ic" d="M233.2,84.8 C233.2,84 232.8,81.5 233.2,80 C233.7,78.5 234.7,76.8 236,75.8 C237.3,74.8 239.5,74.1 241,74 C242.5,73.9 244.5,75 245.2,75.2" style="stroke-width:2.4"/>
<path class="ic" d="M272,75 C272.7,74.8 274.5,73.6 276,73.8 C277.5,73.9 279.5,74.9 280.8,76 C282,77.1 283,79 283.5,80.5 C284,82 283.7,84.2 283.8,85" style="stroke-width:2.4"/>
<path class="ic" d="M233.5,111.8 V87.2 A2.6,2.6 0 0 0 228.3,87.2 V110.6 Q228.3,111.8 229.5,111.8 H287.4 Q288.6,111.8 288.6,110.6 V87.2 A2.6,2.6 0 0 0 283.4,87.2 V111.8" style="stroke-width:2.4"/>
<path class="ic" d="M234.5,106.2 L282.5,106.2" style="stroke-width:2.4"/>
<path class="ic" d="M234.5,98.8 L252.2,98.8" style="stroke-width:2.4"/>
<path class="ic" d="M279.2,98.8 L282.5,98.8" style="stroke-width:2.4"/>
<rect class="ic"  fill="#fff" x="253" y="90.2" width="25.5" height="11.2" rx="2.6" ry="2.6" style="stroke-width:2.4;fill:#fff"/>
<path class="ic" d="M248.8,90.2 L255,90.2" style="stroke-width:2.4"/>
<circle class="ic" style="stroke-width:2.4;fill:#fff" cx="243.5" cy="92.5" r="5.2"/>
<text class="lb" font-size="20.1" x="208.28" y="143" textLength="100.16" lengthAdjust="spacingAndGlyphs">FUNKCJA</text>
<text class="lb" font-size="24.3" x="209.39" y="171" textLength="97.84" lengthAdjust="spacingAndGlyphs">SPANIA</text>
<!-- part_icons.hand -->
<path class="ic" d="M75,212.2 V209.2 Q75,206 78.2,206 H117.8 Q121,206 121,209.2 V212.2" style="stroke-width:2.4"/>
<path class="ic" d="M78.5,223.3 V213.1 H72.5 Q71.1,213.1 71.1,214.5 V228.2 Q71.1,229.8 72.6,229.8 H123.2 Q124.8,229.8 124.8,228.2 V214.5 Q124.8,213.1 123.3,213.1 H117.5 V223.3 Z" style="stroke-width:2.4"/>
<path class="ic" d="M79.6,223.2 V219.2 Q79.6,217.3 81.5,217.3 H114.8 Q116.6,217.3 116.6,219.2 V223.2" style="stroke-width:2.4"/>
<path class="ic" d="M73.6,230 V232 Q73.6,233.4 75.1,233.4 Q76.6,233.4 76.6,232 V230" style="stroke-width:2.4"/>
<path class="ic" d="M119.4,230 V232 Q119.4,233.4 120.9,233.4 Q122.4,233.4 122.4,232 V230" style="stroke-width:2.4"/>
<path class="ic" d="M88.6,252.5 C89.9,252.5 96,252.3 98,252.2 C100,252.2 101.6,252.1 103,252 C104.4,251.9 107,251.7 108,251.4 C109,251.1 110,250.5 110.4,250 C110.8,249.5 111.2,248.5 111,247.9 C110.8,247.3 110.4,246.5 109.2,246.1 C108.1,245.7 105.3,245.2 103,244.8 C100.7,244.3 95.4,243.4 93,243 C90.6,242.6 87.6,242.1 86,241.9 C84.4,241.7 83.1,241.4 82,241.5 C80.9,241.6 79.3,242 78,242.4 C76.7,242.8 74.6,243.8 73,244.4 C71.4,245 68.1,246.3 67,246.8 C65.9,247.2 65.4,247.4 65,247.8 C64.6,248.1 64.6,247.9 64.5,249.2 C64.4,250.6 64.5,255.5 64.5,257.5 C64.5,259.5 64.5,262.3 64.6,263.2 C64.7,264.2 65.1,264.4 65.5,264.5 C65.9,264.6 66.5,264.4 67.2,264 C68,263.6 69.5,262 70.5,261.5 C71.5,261 73.4,260.3 74.5,260.2 C75.6,260.2 76.1,260.3 78,261 C79.9,261.7 85.2,263.9 88,265 C90.8,266.1 96.1,268.2 98,268.8 C99.9,269.3 100.4,269.2 101.5,269 C102.6,268.8 103.9,268.5 105.5,267.5 C107.1,266.5 110.5,264 113,262 C115.5,260 120.6,255.6 123,253.5 C125.4,251.4 128.8,248.7 130,247.5 C131.2,246.3 131.4,245.7 131.5,245 C131.6,244.3 131.2,242.9 130.8,242.2 C130.3,241.6 128.7,240.6 128,240.5 C127.3,240.4 126.9,240.3 125.5,241.2 C124.1,242.2 120.5,245.2 118,247 C115.5,248.8 109.8,253 108,254.2 C106.2,255.5 106.2,255.7 105.5,256 C104.8,256.3 103.7,256.6 103,256.5 C102.3,256.4 101.3,256 100.5,255.5 C99.7,255 97.9,253.3 97.5,252.9" style="stroke-width:2.4"/>
<path class="ic" d="M111,245.2 C111.5,244.9 113.5,243.4 114.5,242.8 C115.5,242.1 117.2,241.1 118,240.8 C118.8,240.4 119.9,240.3 120.5,240.4 C121.1,240.5 122.2,241.1 122.1,241.6 C122,242.1 121.3,242.6 120,243.6 C118.7,244.6 114,248.1 113,248.9" style="stroke-width:2.4"/>
<text class="lb" font-size="21.1" x="49.50" y="298" textLength="96.77" lengthAdjust="spacingAndGlyphs">RĘCZNIE</text>
<text class="ls" font-size="13.2" x="53.53" y="320" textLength="90.11" lengthAdjust="spacingAndGlyphs">WYKONANA</text>
<!-- part_icons.pillows -->
<path class="ic" d="M248.8,216 C249.1,215.5 250.5,213.3 251,212.2 C251.5,211.2 251.7,209.5 252,208.8 C252.3,208 252.8,207.1 253.2,206.8 C253.7,206.4 254.5,206.3 255,206.4 C255.5,206.5 256.2,207.1 256.8,207.5 C257.3,207.9 257.6,208.8 258.8,209.5 C259.9,210.2 263.1,211.6 265,212.8 C266.9,213.9 270.7,216.3 272.5,217.5 C274.3,218.7 276.4,220.4 277.5,221 C278.6,221.6 279.3,221.5 280,221.6 C280.7,221.7 281.8,221.7 282.2,222 C282.7,222.3 283.3,223.4 283.4,224 C283.5,224.6 283.1,225.9 282.8,226.5 C282.4,227.1 281.2,227.7 280.8,228.2 C280.3,228.8 279.9,229.4 279.2,230.5 C278.6,231.6 277.5,234.6 276.5,236.2 C275.5,237.9 273.1,241.4 272.5,242.2" style="stroke-width:2.5"/>
<path class="ic" d="M235,242.6 C235.2,242.2 236.6,240.6 236.8,239.5 C236.9,238.4 236.3,237.1 236.2,235 C236.2,232.9 236.6,227 236.5,225 C236.4,223 235.5,222.1 235.2,221 C235,219.9 234.8,218.2 235,217.5 C235.2,216.8 236,216.1 236.5,215.9 C237,215.7 237.8,216 238.5,216.2 C239.2,216.5 240.2,217.4 241.5,217.5 C242.8,217.6 245,217 248,216.9 C251,216.8 260,216.9 262.5,216.8 C265,216.8 265,216.4 265.8,216.2 C266.5,216.1 267,215.6 267.5,215.8 C268,215.9 269.1,216.5 269.2,217.2 C269.4,218 268.9,219.2 268.8,221 C268.6,222.8 268.2,227.4 268.2,230 C268.3,232.6 268.9,237.3 269.2,239 C269.6,240.7 270.4,241.8 270.6,242.2" style="stroke-width:2.5;fill:#fff"/>
<path class="ic" d="M240,251.5 H276.5 A3.6,3.6 0 0 1 276.5,258.8 H237 A7.9,7.9 0 0 1 237,243 H277.5 A9.5,9.5 0 0 1 287,252.5 V258 A9.5,9.5 0 0 1 277.5,267.5 H232.8 Q229.2,267.5 229.2,264 Q229.2,261.1 232,259.2" style="stroke-width:2.5;fill:#fff"/>
<text class="lb" font-size="20.7" x="199.17" y="298" textLength="117.92" lengthAdjust="spacingAndGlyphs">POJEMNIK</text>
<text class="lb" font-size="18.8" x="199.16" y="320" textLength="119.06" lengthAdjust="spacingAndGlyphs">NA POŚCIEL</text>
<!-- part_icons.springs -->
<path class="ic" d="M94.8,380.4 C93.9,380 91.4,378.5 89.6,378 C87.8,377.5 85.9,377.2 84,377.2 C82.1,377.2 80,377.5 78.4,378 C76.8,378.5 75.5,379.4 74.4,380.4 C73.3,381.4 72.3,382.7 71.8,384 C71.4,385.3 71.3,386.7 71.7,388 C72,389.3 73,391 74,392 C75,393 76.1,393.7 77.6,394.2 C79.1,394.8 81.3,395.2 83.2,395.4 C85.1,395.5 87.1,395.4 88.8,395 C90.5,394.7 92,394 93.2,393.2 C94.4,392.4 95.5,391.3 95.8,390.4 C96.2,389.5 95.8,388.4 95.2,387.6 C94.6,386.8 93.6,386.2 92.4,385.8 C91.2,385.4 89.4,385.2 88,385.2 C86.6,385.2 85.2,385.5 84,385.8 C82.8,386.1 81.7,386.6 80.8,387 C79.9,387.5 78.8,388.4 78.4,388.6" style="stroke-width:2.6"/><path class="ic" d="M72.4,394.4 C72.3,394.9 71.6,396.4 71.5,397.6 C71.4,398.8 71.3,400.3 71.7,401.6 C72.1,402.9 73,404.6 74,405.6 C75,406.6 76.1,407.3 77.6,407.8 C79.1,408.4 81.3,408.7 83.2,408.8 C85.1,408.9 87.1,408.7 88.8,408.4 C90.5,408.1 92,407.6 93.2,406.8 C94.4,406 95.5,404.8 95.8,403.8 C96.2,402.9 95.8,401.9 95.2,401.2 C94.6,400.5 93.6,399.8 92.4,399.4 C91.2,399 89.4,398.8 88,398.8 C86.6,398.8 85.2,398.9 84,399.2 C82.8,399.5 81.7,399.9 80.8,400.4 C79.9,400.9 78.8,401.7 78.4,402" style="stroke-width:2.6"/><path class="ic" d="M72.4,407.8 C72.3,408.4 71.6,409.8 71.5,411 C71.4,412.2 71.3,413.7 71.7,415 C72.1,416.4 73,418 74,419 C75,420.1 76.1,420.7 77.6,421.3 C79.1,421.8 81.3,422.1 83.2,422.2 C85.1,422.3 87.1,422.2 88.8,421.8 C90.5,421.5 92,421 93.2,420.2 C94.4,419.5 95.5,418.2 95.8,417.3 C96.2,416.3 95.8,415.4 95.2,414.6 C94.6,413.9 93.6,413.2 92.4,412.8 C91.2,412.4 89.4,412.3 88,412.2 C86.6,412.2 85.2,412.4 84,412.6 C82.8,412.9 81.7,413.4 80.8,413.8 C79.9,414.3 78.8,415.2 78.4,415.4" style="stroke-width:2.6"/><path class="ic" d="M72.4,421.2 C72.3,421.7 71.6,423 71.5,424 C71.5,425 71.6,426.3 72.2,427.2 C72.7,428.1 73.8,429 74.8,429.6 C75.8,430.2 77,430.5 78.4,430.8 C79.8,431.1 81.6,431.2 83.2,431.2 C84.8,431.2 86.6,431 88,430.7 C89.4,430.5 90.5,430.1 91.6,429.6 C92.7,429.1 94.3,428.3 94.8,428" style="stroke-width:2.6"/>
<path class="ic" d="M128.6,380.4 C127.7,380 125.2,378.5 123.4,378 C121.6,377.5 119.6,377.2 117.8,377.2 C115.9,377.2 113.8,377.5 112.2,378 C110.6,378.5 109.3,379.4 108.2,380.4 C107.1,381.4 106.1,382.7 105.6,384 C105.1,385.3 105.1,386.7 105.4,388 C105.8,389.3 106.8,391 107.8,392 C108.7,393 109.8,393.7 111.4,394.2 C112.9,394.8 115.1,395.2 117,395.4 C118.8,395.5 120.9,395.4 122.6,395 C124.2,394.7 125.8,394 127,393.2 C128.1,392.4 129.3,391.3 129.6,390.4 C129.9,389.5 129.5,388.4 129,387.6 C128.4,386.8 127.4,386.2 126.2,385.8 C125,385.4 123.2,385.2 121.8,385.2 C120.4,385.2 119,385.5 117.8,385.8 C116.6,386.1 115.5,386.6 114.6,387 C113.6,387.5 112.6,388.4 112.2,388.6" style="stroke-width:2.6"/><path class="ic" d="M106.2,394.4 C106,394.9 105.4,396.4 105.3,397.6 C105.2,398.8 105,400.3 105.4,401.6 C105.9,402.9 106.8,404.6 107.8,405.6 C108.7,406.6 109.8,407.3 111.4,407.8 C112.9,408.4 115.1,408.7 117,408.8 C118.8,408.9 120.9,408.7 122.6,408.4 C124.2,408.1 125.8,407.6 127,406.8 C128.1,406 129.3,404.8 129.6,403.8 C129.9,402.9 129.5,401.9 129,401.2 C128.4,400.5 127.4,399.8 126.2,399.4 C125,399 123.2,398.8 121.8,398.8 C120.4,398.8 119,398.9 117.8,399.2 C116.6,399.5 115.5,399.9 114.6,400.4 C113.6,400.9 112.6,401.7 112.2,402" style="stroke-width:2.6"/><path class="ic" d="M106.2,407.8 C106,408.4 105.4,409.8 105.3,411 C105.2,412.2 105,413.7 105.4,415 C105.9,416.4 106.8,418 107.8,419 C108.7,420.1 109.8,420.7 111.4,421.3 C112.9,421.8 115.1,422.1 117,422.2 C118.8,422.3 120.9,422.2 122.6,421.8 C124.2,421.5 125.8,421 127,420.2 C128.1,419.5 129.3,418.2 129.6,417.3 C129.9,416.3 129.5,415.4 129,414.6 C128.4,413.9 127.4,413.2 126.2,412.8 C125,412.4 123.2,412.3 121.8,412.2 C120.4,412.2 119,412.4 117.8,412.6 C116.6,412.9 115.5,413.4 114.6,413.8 C113.6,414.3 112.6,415.2 112.2,415.4" style="stroke-width:2.6"/><path class="ic" d="M106.2,421.2 C106,421.7 105.3,423 105.3,424 C105.2,425 105.4,426.3 105.9,427.2 C106.5,428.1 107.5,429 108.6,429.6 C109.6,430.2 110.8,430.5 112.2,430.8 C113.6,431.1 115.4,431.2 117,431.2 C118.6,431.2 120.4,431 121.8,430.7 C123.2,430.5 124.2,430.1 125.4,429.6 C126.5,429.1 128,428.3 128.6,428" style="stroke-width:2.6"/>
<text class="lb" font-size="18.4" x="47.71" y="463" textLength="104.03" lengthAdjust="spacingAndGlyphs">SPRĘŻYNY</text>
<!-- part_icons.foam -->
<path class="ic" d="M315.2,392.2 V389.6 Q315,385.6 309.5,386 Q260.4,395 211.2,386 Q205.8,385.4 205.8,390.2 V412.9 Q205.8,416.2 209.1,416.2 H294.2" style="stroke-width:2.7"/>
<rect x="215.9" y="397.9" width="3" height="3" fill="#0d0d0d"/>
<rect x="221.6" y="397.9" width="3" height="3" fill="#0d0d0d"/>
<rect x="227.4" y="397.9" width="3" height="3" fill="#0d0d0d"/>
<rect x="233.1" y="397.9" width="3" height="3" fill="#0d0d0d"/>
<rect x="238.8" y="397.9" width="3" height="3" fill="#0d0d0d"/>
<rect x="244.5" y="397.9" width="3" height="3" fill="#0d0d0d"/>
<rect x="250.2" y="397.9" width="3" height="3" fill="#0d0d0d"/>
<rect x="255.9" y="397.9" width="3" height="3" fill="#0d0d0d"/>
<rect x="261.6" y="397.9" width="3" height="3" fill="#0d0d0d"/>
<rect x="267.3" y="397.9" width="3" height="3" fill="#0d0d0d"/>
<rect x="273" y="397.9" width="3" height="3" fill="#0d0d0d"/>
<rect x="278.8" y="397.9" width="3" height="3" fill="#0d0d0d"/>
<rect x="284.5" y="397.9" width="3" height="3" fill="#0d0d0d"/>
<rect x="290.2" y="397.9" width="3" height="3" fill="#0d0d0d"/>
<rect x="295.9" y="397.9" width="3" height="3" fill="#0d0d0d"/>
<rect x="215.9" y="406.2" width="3" height="3" fill="#0d0d0d"/>
<rect x="221.6" y="406.2" width="3" height="3" fill="#0d0d0d"/>
<rect x="227.4" y="406.2" width="3" height="3" fill="#0d0d0d"/>
<rect x="233.1" y="406.2" width="3" height="3" fill="#0d0d0d"/>
<rect x="238.8" y="406.2" width="3" height="3" fill="#0d0d0d"/>
<rect x="244.5" y="406.2" width="3" height="3" fill="#0d0d0d"/>
<rect x="250.2" y="406.2" width="3" height="3" fill="#0d0d0d"/>
<rect x="255.9" y="406.2" width="3" height="3" fill="#0d0d0d"/>
<rect x="261.6" y="406.2" width="3" height="3" fill="#0d0d0d"/>
<rect x="267.3" y="406.2" width="3" height="3" fill="#0d0d0d"/>
<rect x="273" y="406.2" width="3" height="3" fill="#0d0d0d"/>
<rect x="278.8" y="406.2" width="3" height="3" fill="#0d0d0d"/>
<rect x="284.5" y="406.2" width="3" height="3" fill="#0d0d0d"/>
<rect x="290.2" y="406.2" width="3" height="3" fill="#0d0d0d"/>
<path class="ic" d="M301.3,422 L297.2,430.9 L302.9,430.6 L306.7,434.7 L310.4,426.7Z" style="stroke-width:2.0;fill:#fff"/>
<path class="ic" d="M323.8,422 L328,430.9 L322.3,430.6 L318.5,434.7 L314.7,426.7Z" style="stroke-width:2.0;fill:#fff"/>
<path class="ic" d="M312.4,397.4 Q317.2,394.2 319.7,399.4 Q325.4,399 325,404.7 Q330.2,407.2 327,412 Q330.2,416.8 325,419.3 Q325.4,425 319.7,424.6 Q317.2,429.8 312.4,426.6 Q307.6,429.8 305.1,424.6 Q299.4,425 299.8,419.3 Q294.6,416.8 297.9,412 Q294.6,407.2 299.8,404.7 Q299.4,399 305.1,399.4 Q307.6,394.2 312.4,397.4Z" style="stroke-width:2.0;fill:#fff"/>
<circle class="ic" style="stroke-width:2.0" cx="312.4" cy="412" r="10.7"/>
<path class="ic" d="M312.4,405.1 L314.4,409.2 L319,409.9 L315.7,413.1 L316.5,417.6 L312.4,415.5 L308.3,417.6 L309.1,413.1 L305.8,409.9 L310.4,409.2Z" style="stroke-width:2.0"/>
<text class="ls" font-size="12.9" x="222.02" y="454" textLength="77.96" lengthAdjust="spacingAndGlyphs">WYSOKIEJ</text>
<text class="ls" font-size="13.8" x="195.98" y="473" textLength="127.77" lengthAdjust="spacingAndGlyphs">JAKOŚCI PIANKA</text>
</svg>
</body>
</html>
